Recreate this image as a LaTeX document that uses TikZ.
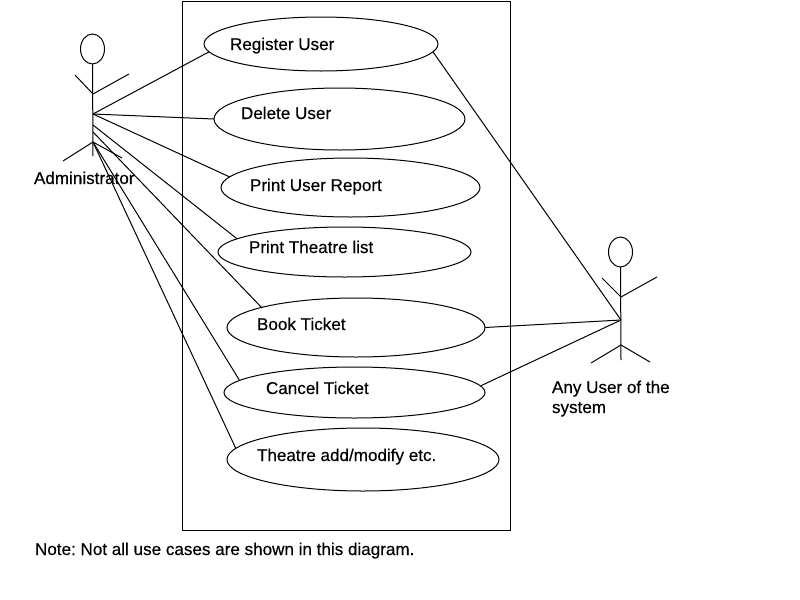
\documentclass[tikz,border=0pt]{standalone}
\usepackage{fontspec}
\setmainfont[FakeBold=0.3]{Liberation Sans}
\usetikzlibrary{shapes.geometric}
\frenchspacing
\tikzset{
  px/.style={x=0.75pt,y=-0.75pt},
  usecase/.style={draw=black,ellipse,line width=0.75pt,inner sep=0pt,outer sep=0pt},
  head/.style={usecase,minimum width=18pt,minimum height=22.5pt},
  lbl/.style={anchor=base west,inner sep=0pt,outer sep=0pt,font=\fontsize{12.8}{15}\selectfont,text=black},
  wire/.style={draw=black,line width=0.75pt}
}
\newcommand{\uc}[6]{\node[usecase,minimum width=#4*0.75pt,minimum height=#5*0.75pt] (#1) at (#2,#3) {};}
\begin{document}
\begin{tikzpicture}[px]
\useasboundingbox (0,0) rectangle (800,600);
\node[draw=black,line width=0.75pt,minimum width=246.4pt,minimum height=396.75pt,inner sep=0pt,outer sep=0pt] (boundary) at (346.3,265.5) {};
% use cases
\uc{e1}{321}{44}{234}{54}{}
\uc{e2}{339.5}{119}{251}{62}{}
\uc{e3}{350.5}{187.5}{259}{59}{}
\uc{e4}{344.5}{252}{253}{50}{}
\uc{e5}{356}{327.5}{258}{59}{}
\uc{e6}{354.5}{392.5}{261}{51}{}
\uc{e7}{363}{459.5}{272}{63}{}
\node[lbl] (t1) at (230,50) {Register User};
\node[lbl] (t2) at (241,119) {Delete User};
\node[lbl] (t3) at (250,191) {Print User Report};
\node[lbl] (t4) at (249,253) {Print Theatre list};
\node[lbl] (t5) at (257,330) {Book Ticket};
\node[lbl] (t6) at (266,394) {Cancel Ticket};
\node[lbl] (t7) at (257,461) {Theatre add/modify etc.};
% administrator
\node[head] (ahead) at (92.5,49) {};
\coordinate (aneck) at (93,94);
\coordinate (ahub) at (93,114);
\coordinate (ah2) at (93,125);
\coordinate (ah3) at (93,132);
\coordinate (ah4) at (93,142);
\coordinate (afoot) at (93,156);
\coordinate (aarml) at (75,75);
\coordinate (aarmr) at (129,74);
\coordinate (alegl) at (63,161);
\coordinate (alegr) at (122,158);
\draw[wire] (ahead.south) -- (afoot);
\draw[wire] (aarml) -- (aneck) -- (aarmr);
\draw[wire] (alegl) -- (ah4) -- (alegr);
\draw[wire] (ahub) -- (e1.184.6);
\draw[wire] (ahub) -- (e2.180);
\draw[wire] (ahub) -- (e3.175.7);
\draw[wire] (ah2) -- (e4.173.1);
\draw[wire] (ah3) -- (e5.168.5);
\draw[wire] (ah4) -- (e6.174.8);
\draw[wire] (ah4) -- (e7.175);
\node[lbl] (aname) at (34,184) {Administrator};
% user
\node[head] (uhead) at (620.5,252) {};
\coordinate (uneck) at (621,297);
\coordinate (uhub) at (621,320);
\coordinate (uhip) at (621,345);
\coordinate (ufoot) at (621,360);
\coordinate (uarml) at (602,278);
\coordinate (uarmr) at (657,277);
\coordinate (ulegl) at (591,363);
\coordinate (ulegr) at (650,362);
\draw[wire] (uhead.south) -- (ufoot);
\draw[wire] (uarml) -- (uneck) -- (uarmr);
\draw[wire] (ulegl) -- (uhip) -- (ulegr);
\draw[wire] (uhub) -- (e1.-4.7);
\draw[wire] (uhub) -- (e5.0);
\draw[wire] (uhub) -- (e6.3.4);
\node[lbl] (uname1) at (552,393) {Any User of the};
\node[lbl] (uname2) at (552,413) {system};
\node[lbl] (note) at (35,555) {Note: Not all use cases are shown in this diagram.};
\end{tikzpicture}
\end{document}
